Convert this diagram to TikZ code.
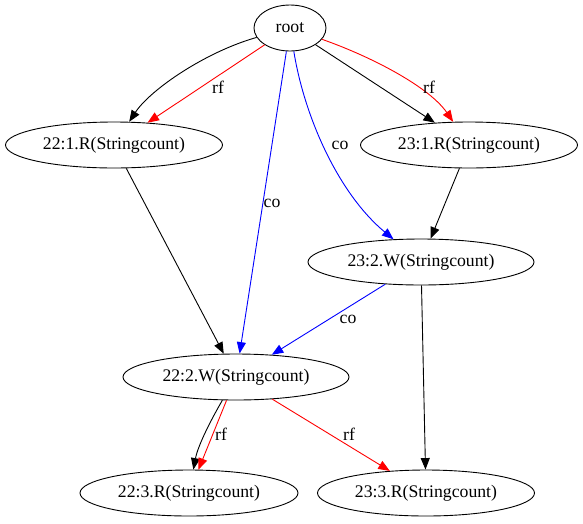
\documentclass[tikz,border=0pt]{standalone}
\usepackage{fontspec}
\setmainfont{Liberation Serif}
\usetikzlibrary{shapes.geometric,arrows.meta}
\begin{document}
\begin{tikzpicture}[x=1pt,y=-1pt,
  ev/.style={draw,ellipse,inner sep=0pt,line width=0.9pt,font=\fontsize{17.7}{20}\selectfont},
  lbl/.style={inner sep=0pt,font=\fontsize{17.7}{20}\selectfont},
  edge/.style={line width=0.9pt,-{Triangle[length=11.5pt,width=9pt]}},
  rfedge/.style={edge,red},
  coedge/.style={edge,blue}]
\useasboundingbox (0,0) rectangle (583,523);
\node[ev,minimum width=72pt,minimum height=46pt] (root) at (290,28) {root};
\node[ev,minimum width=217pt,minimum height=46pt] (a1) at (114,145) {22:1.R(Stringcount)};
\node[ev,minimum width=217pt,minimum height=46pt] (b1) at (469,145) {23:1.R(Stringcount)};
\node[ev,minimum width=226pt,minimum height=46pt] (b2) at (421,262) {23:2.W(Stringcount)};
\node[ev,minimum width=226pt,minimum height=46pt] (a2) at (236,377) {22:2.W(Stringcount)};
\node[ev,minimum width=218pt,minimum height=46pt] (a3) at (189,493) {22:3.R(Stringcount)};
\node[ev,minimum width=217pt,minimum height=46pt] (b3) at (426,493) {23:3.R(Stringcount)};
% root edges
\draw[edge] (root) .. controls (205,52) and (150,90) .. (a1);
\draw[rfedge] (root) -- (a1);
\draw[edge] (root) -- (b1);
\draw[rfedge] (root) .. controls (375,58) and (430,88) .. (b1);
\draw[coedge] (root) -- (a2);
\draw[coedge] (root) .. controls (305,120) and (340,195) .. (b2);
% other edges
\draw[edge] (a1) -- (a2);
\draw[edge] (b1) -- (b2);
\draw[coedge] (b2) -- (a2);
\draw[edge] (b2) -- (b3);
\draw[edge] (a2) .. controls (212,418) and (198,445) .. (a3);
\draw[rfedge] (a2) -- (a3);
\draw[rfedge] (a2) -- (b3);
% labels
\node[lbl] (l1) at (218,87) {rf};
\node[lbl] (l2) at (429,87) {rf};
\node[lbl] (l3) at (340,145) {co};
\node[lbl] (l4) at (272,203) {co};
\node[lbl] (l5) at (348,319) {co};
\node[lbl] (l6) at (221,434) {rf};
\node[lbl] (l7) at (349,434) {rf};
\end{tikzpicture}
\end{document}
